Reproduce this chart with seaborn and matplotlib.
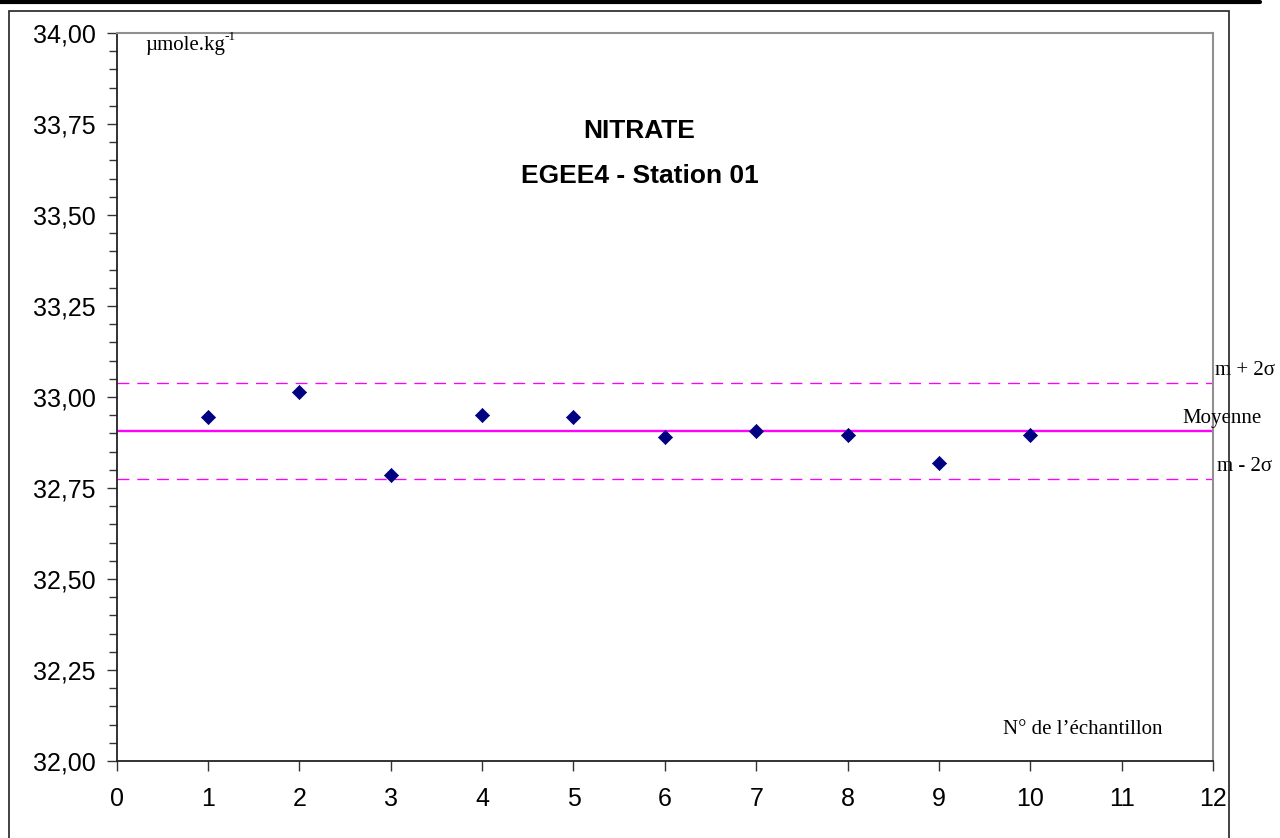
import matplotlib
matplotlib.use("Agg")
import matplotlib.pyplot as plt
from matplotlib.ticker import MultipleLocator, FuncFormatter
from matplotlib.lines import Line2D
from matplotlib.patches import Rectangle
import seaborn as sns
import pandas as pd

# Replicate nitrate measurements, EGEE4 station 01 (µmol/kg)
samples = [1, 2, 3, 4, 5, 6, 7, 8, 9, 10]
nitrate = [32.944, 33.015, 32.786, 32.950, 32.944, 32.889, 32.907, 32.895, 32.819, 32.895]
mean_value = 32.906
two_sigma = 0.132

df = pd.DataFrame({"sample": samples, "nitrate": nitrate})

sns.set_style("ticks")
plt.rcParams["font.family"] = ["Liberation Sans", "DejaVu Sans"]
plt.rcParams["text.color"] = "black"
plt.rcParams["xtick.color"] = "black"
plt.rcParams["ytick.color"] = "black"
serif = ["Liberation Serif", "DejaVu Serif"]

W, H = 1280, 838
fig = plt.figure(figsize=(12.8, 8.38), dpi=100)
ax = fig.add_axes([116.7 / W, 1 - 761 / H, (1213 - 116.7) / W, (761 - 33) / H])

# control limits and mean
ax.axhline(mean_value, color="#FF00FF", lw=1.7, zorder=2)
for lim in (mean_value + two_sigma, mean_value - two_sigma):
    ax.axhline(lim, color="#FF00FF", lw=0.95, ls=(0, (9, 6)), zorder=2)

sns.scatterplot(data=df, x="sample", y="nitrate", marker="D", s=52,
                color="#000080", edgecolor="#000080", linewidth=0.5, ax=ax, zorder=3)

ax.set_xlim(0, 12)
ax.set_ylim(32.0, 34.0)
ax.xaxis.set_major_locator(MultipleLocator(1))
ax.yaxis.set_major_locator(MultipleLocator(0.25))
ax.yaxis.set_minor_locator(MultipleLocator(0.05))
ax.yaxis.set_major_formatter(FuncFormatter(lambda v, p: f"{v:.2f}".replace(".", ",")))
ax.tick_params(axis="both", which="major", direction="out", length=7, width=1.0,
               color="#333333", labelsize=18, labelcolor="black")
ax.tick_params(axis="y", which="minor", direction="out", length=6, width=1.0, color="#333333")
ax.tick_params(axis="x", pad=12)
ax.tick_params(axis="y", pad=8)
ax.set_xlabel("")
ax.set_ylabel("")

for side in ("left", "bottom"):
    ax.spines[side].set_color("#222222")
    ax.spines[side].set_linewidth(1.3)
for side in ("top", "right"):
    ax.spines[side].set_visible(True)
    ax.spines[side].set_color("#909090")
    ax.spines[side].set_linewidth(1.5)

# title block
ax.text(0.477, 0.865, "NITRATE", transform=ax.transAxes, ha="center", va="center",
        fontsize=19, fontweight="bold", color="black")
ax.text(0.477, 0.8036, "EGEE4 - Station 01", transform=ax.transAxes, ha="center",
        va="center", fontsize=19, fontweight="bold", color="black")

# units and axis caption inside the plot
unit = ax.text(0.0258, 0.9835, "µmole.kg", transform=ax.transAxes,
               ha="left", va="center", fontsize=15, family=serif)
ax.annotate("-1", xy=(1.0, 0.62), xycoords=unit, ha="left", va="bottom",
            fontsize=9.5, family=serif)
ax.text(0.808, 0.0426, "N° de l’échantillon", transform=ax.transAxes,
        ha="left", va="center", fontsize=15, family=serif)

# line labels on the right margin
ax.text(12.02, mean_value + two_sigma + 0.01, "m + 2σ", ha="left", va="bottom",
        fontsize=15, family=serif, clip_on=False)
ax.text(11.67, mean_value + 0.01, "Moyenne", ha="left", va="bottom",
        fontsize=15, family=serif, clip_on=False)
ax.text(12.04, mean_value - two_sigma + 0.01, "m - 2σ", ha="left", va="bottom",
        fontsize=15, family=serif, clip_on=False)

# outer page frame
fig.add_artist(Line2D([0, 1260 / W], [1 - 2 / H, 1 - 2 / H], transform=fig.transFigure,
                      color="black", lw=3.0))
fig.add_artist(Rectangle((8.5 / W, -0.05), (1229 - 8.5) / W, 1.05 - 11 / H,
                         transform=fig.transFigure, fill=False, edgecolor="#222222", lw=1.2))

fig.savefig("out.png", dpi=100)
